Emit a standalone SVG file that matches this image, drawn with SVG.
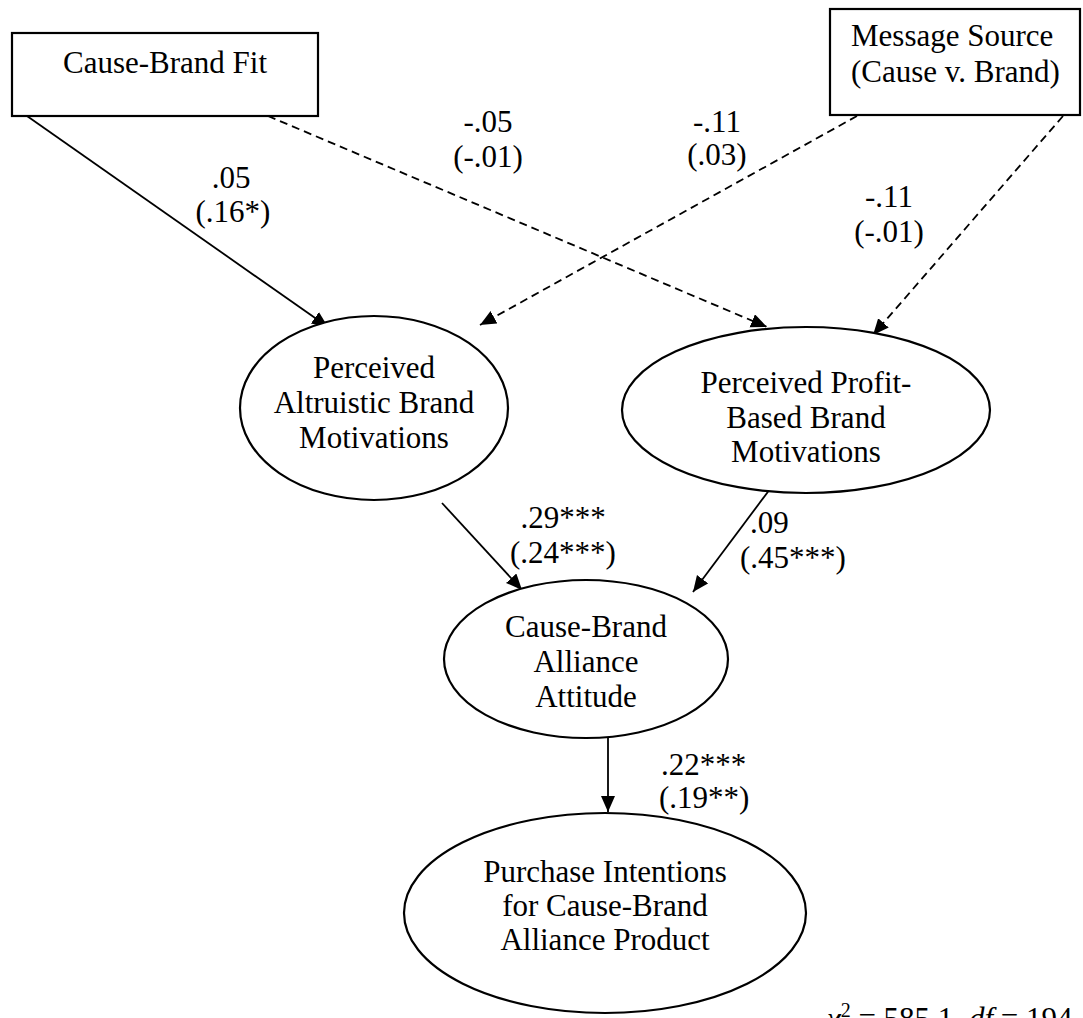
<svg xmlns="http://www.w3.org/2000/svg" width="1083" height="1018" viewBox="0 0 1083 1018">
<style>
text{font-family:"Liberation Serif","Times New Roman",serif;font-size:31px;fill:#000}
.c{text-anchor:middle}
.box,.ell{fill:#fff;stroke:#000;stroke-width:2.2}
.ln{stroke:#000;stroke-width:1.8;fill:none;marker-end:url(#ah)}
.d{stroke-dasharray:8 5}
</style>
<defs>
<marker id="ah" markerUnits="userSpaceOnUse" markerWidth="18" markerHeight="16" refX="16" refY="7" orient="auto">
<path d="M0,0 L16,7 L0,14 z" fill="#000"/>
</marker>
</defs>
<rect width="1083" height="1018" fill="#fff"/>
<g id="connectors">
<line class="ln" x1="27" y1="116" x2="328" y2="327"/>
<line class="ln d" x1="268" y1="116" x2="767" y2="327"/>
<line class="ln d" x1="857" y1="116" x2="480" y2="325"/>
<line class="ln d" x1="1063" y1="116" x2="873" y2="335"/>
<line class="ln" x1="442" y1="503" x2="522" y2="590"/>
<line class="ln" x1="779" y1="477" x2="693" y2="592"/>
<line class="ln" x1="608" y1="738" x2="608" y2="812"/>
</g>
<g id="labels">
<text class="c" x="231" y="188">.05</text>
<text class="c" x="233" y="222">(.16*)</text>
<text class="c" x="488" y="132">-.05</text>
<text class="c" x="488" y="167">(-.01)</text>
<text class="c" x="717" y="132">-.11</text>
<text class="c" x="717" y="165">(.03)</text>
<text class="c" x="889" y="207">-.11</text>
<text class="c" x="889" y="242">(-.01)</text>
<text class="c" x="563" y="528">.29***</text>
<text class="c" x="563" y="563">(.24***)</text>
<text x="750" y="533">.09</text>
<text x="740" y="568">(.45***)</text>
<text x="661" y="775">.22***</text>
<text x="659" y="808">(.19**)</text>
<text x="827" y="1029"><tspan font-style="italic">χ</tspan><tspan font-size="20" dy="-12">2</tspan><tspan dy="12"> = 585.1, </tspan><tspan font-style="italic">df</tspan> = 194</text>
</g>
<g id="fit">
<rect class="box" x="12" y="33" width="306" height="83"/>
<text class="c" x="165" y="73">Cause-Brand Fit</text>
</g>
<g id="source">
<rect class="box" x="830" y="9" width="250" height="106"/>
<text x="851" y="46">Message Source</text>
<text x="851" y="82">(Cause v. Brand)</text>
</g>
<g id="altruistic">
<ellipse class="ell" cx="374" cy="408" rx="134" ry="92"/>
<text class="c" x="374" y="378">Perceived</text>
<text class="c" x="374" y="413">Altruistic Brand</text>
<text class="c" x="374" y="448">Motivations</text>
</g>
<g id="profit">
<ellipse class="ell" cx="806" cy="410" rx="184" ry="83"/>
<text class="c" x="806" y="393">Perceived Profit-</text>
<text class="c" x="806" y="428">Based Brand</text>
<text class="c" x="806" y="462">Motivations</text>
</g>
<g id="attitude">
<ellipse class="ell" cx="586" cy="659" rx="142" ry="79"/>
<text class="c" x="586" y="637">Cause-Brand</text>
<text class="c" x="586" y="672">Alliance</text>
<text class="c" x="586" y="707">Attitude</text>
</g>
<g id="purchase">
<ellipse class="ell" cx="605" cy="913" rx="201" ry="100"/>
<text class="c" x="605" y="882">Purchase Intentions</text>
<text class="c" x="605" y="916">for Cause-Brand</text>
<text class="c" x="605" y="950">Alliance Product</text>
</g>
</svg>
